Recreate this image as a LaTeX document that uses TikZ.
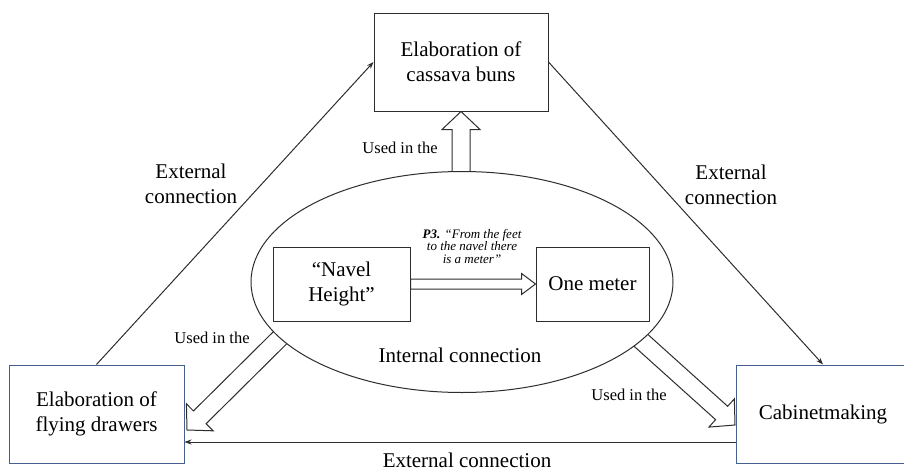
\documentclass[tikz,border=0pt]{standalone}
\usepackage{fontspec}
\setmainfont{Liberation Serif}
\usetikzlibrary{shapes.geometric,arrows.meta,calc}
\definecolor{boxblue}{RGB}{70,95,145}
\definecolor{ink}{RGB}{45,45,45}
\newcommand\hollowarr[5]{% #1 tail, #2 tip, #3 half shaft, #4 half head, #5 head length
  \path (#1) coordinate (ha) (#2) coordinate (hb);
  \path ($(hb)!#5!(ha)$) coordinate (hh);
  \draw[harr] ($(ha)!#3!90:(hb)$) -- ($(hh)!#3!90:(hb)$) -- ($(hh)!#4!90:(hb)$) -- (hb)
    -- ($(hh)!#4!-90:(hb)$) -- ($(hh)!#3!-90:(hb)$) -- ($(ha)!#3!-90:(hb)$) -- cycle;
}
\tikzset{
  box/.style={draw=ink, line width=1pt, fill=white, align=center, inner sep=0pt,
    minimum width=174pt, minimum height=98pt, font=\fontsize{21}{25}\selectfont},
  bluebox/.style={box, draw=boxblue},
  inbox/.style={draw=ink, line width=1pt, fill=white, align=center, inner sep=0pt,
    minimum height=74pt, font=\fontsize{21}{25}\selectfont},
  lbl/.style={font=\fontsize{21}{25}\selectfont, align=center, inner sep=0pt},
  used/.style={font=\fontsize{16.5}{19}\selectfont, inner sep=0pt},
  quote/.style={font=\fontsize{13}{12.5}\selectfont\itshape, align=center, inner sep=0pt},
  ext/.style={draw=ink, line width=1pt, -{Stealth[length=7pt,width=5pt]}},
  harr/.style={draw=ink, line width=1pt, fill=white, line join=miter},
  ell/.style={ellipse, draw=ink, line width=1pt, fill=white, inner sep=0pt,
    minimum width=422pt, minimum height=221pt},
}
\begin{document}
\begin{tikzpicture}[x=1pt,y=-1pt]
\useasboundingbox (0,0) rectangle (904,471);
% outer boxes (positions)
\path (461,62) node[box] (T) {Elaboration of\\cassava buns};
\path (96.5,414) node[bluebox, minimum width=175pt] (L) {Elaboration of\\flying drawers};
\path (823,414) node[bluebox] (R) {Cabinetmaking};
% arrow anchors
\coordinate (ua0) at (461,220);
\coordinate (la0) at (305,313);
\coordinate (la1) at (187,430);
\coordinate (ra0) at (615,317);
\coordinate (ra1) at (735,425);
% hollow "used in the" arrows
\hollowarr{ua0}{T.south}{9pt}{19pt}{18pt}
\hollowarr{la0}{la1}{9pt}{19pt}{18pt}
\hollowarr{ra0}{ra1}{9pt}{19pt}{18pt}
% ellipse
\node[ell] (E) at (462,282) {};
% inner boxes
\node[inbox, minimum width=137pt] (N) at (341.5,284) {“Navel\\Height”};
\node[inbox, minimum width=113pt] (M) at (592.5,284) {One meter};
\hollowarr{N.east}{M.west}{5pt}{10.5pt}{14pt}
\node[quote] (Q) at (472,246) {\textbf{P3.} “From the feet\\to the navel there\\is a meter”};
\node[lbl] (IC) at (460,355) {Internal connection};
% redraw outer boxes on top of arrow tips
\node[box] at (T) {Elaboration of\\cassava buns};
\node[bluebox, minimum width=175pt] at (L) {Elaboration of\\flying drawers};
\node[bluebox] at (R) {Cabinetmaking};
% external connections
\draw[ext] (L.north) -- (T.west);
\draw[ext] (T.east) -- (R.north);
\draw[ext] ($(R.west)+(0,28)$) -- ($(L.east)+(0,28)$);
% labels
\node[lbl] (EL) at (191,184) {External\\connection};
\node[lbl] (ER) at (731,185) {External\\connection};
\node[lbl] (EB) at (467,460) {External connection};
\node[used] (U1) at (400,148) {Used in the};
\node[used] (U2) at (212,338) {Used in the};
\node[used] (U3) at (629,395) {Used in the};
\end{tikzpicture}
\end{document}
